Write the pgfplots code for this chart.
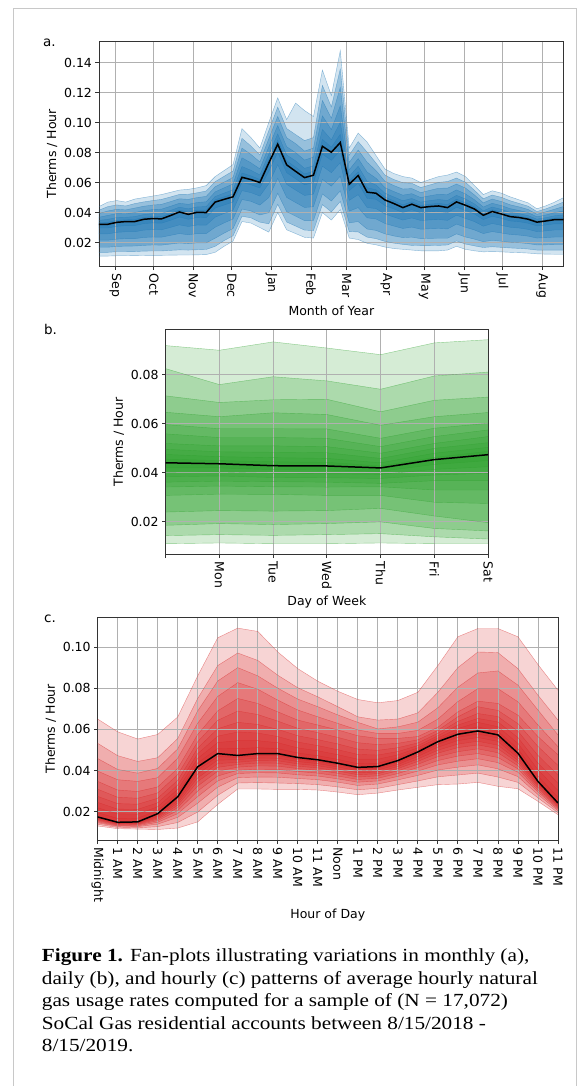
\documentclass[border=0pt]{standalone}
\usepackage{pgfplots}
\pgfplotsset{compat=1.18}
\usepackage{pgfplotstable}
\usepgfplotslibrary{fillbetween}
\usepackage{fontspec}
\setmainfont{DejaVu Sans}
\newfontfamily\capfont[FakeStretch=1.15]{Liberation Serif}

\definecolor{tabblue}{HTML}{1F77B4}
\definecolor{tabgreen}{HTML}{2CA02C}
\definecolor{tabred}{HTML}{D62728}
\definecolor{gridgray}{HTML}{B0B0B0}
\definecolor{framegray}{HTML}{C8C8C8}

% monthly fan (weekly points, x = days since 15 Aug 2018)
\pgfplotstableread{
x u1 u2 u3 u4 u5 u6 m l6 l5 l4 l3 l2 l1
4 0.0440 0.0416 0.0393 0.0369 0.0348 0.0333 0.0322 0.0297 0.0258 0.0216 0.0169 0.0135 0.0110
11 0.0470 0.0440 0.0411 0.0381 0.0355 0.0335 0.0322 0.0297 0.0258 0.0216 0.0169 0.0135 0.0110
18 0.0480 0.0451 0.0422 0.0393 0.0367 0.0348 0.0335 0.0308 0.0268 0.0223 0.0174 0.0139 0.0112
25 0.0470 0.0444 0.0418 0.0392 0.0369 0.0352 0.0340 0.0313 0.0272 0.0226 0.0176 0.0139 0.0112
32 0.0490 0.0460 0.0430 0.0400 0.0373 0.0354 0.0340 0.0313 0.0272 0.0226 0.0177 0.0140 0.0113
39 0.0500 0.0471 0.0442 0.0413 0.0387 0.0368 0.0355 0.0326 0.0283 0.0234 0.0181 0.0143 0.0114
46 0.0510 0.0480 0.0450 0.0420 0.0393 0.0374 0.0360 0.0331 0.0286 0.0237 0.0184 0.0144 0.0115
53 0.0520 0.0488 0.0455 0.0423 0.0394 0.0373 0.0358 0.0329 0.0285 0.0236 0.0183 0.0144 0.0115
60 0.0535 0.0504 0.0473 0.0442 0.0414 0.0394 0.0380 0.0348 0.0301 0.0248 0.0190 0.0148 0.0116
67 0.0550 0.0521 0.0492 0.0462 0.0436 0.0417 0.0404 0.0370 0.0318 0.0260 0.0197 0.0151 0.0117
74 0.0555 0.0522 0.0488 0.0455 0.0425 0.0403 0.0388 0.0355 0.0307 0.0252 0.0193 0.0150 0.0117
81 0.0565 0.0532 0.0500 0.0467 0.0438 0.0417 0.0402 0.0368 0.0317 0.0260 0.0198 0.0152 0.0118
88 0.0580 0.0544 0.0508 0.0472 0.0440 0.0416 0.0400 0.0366 0.0316 0.0260 0.0198 0.0154 0.0120
95 0.0640 0.0606 0.0572 0.0538 0.0507 0.0485 0.0470 0.0430 0.0369 0.0302 0.0229 0.0175 0.0135
102 0.0680 0.0642 0.0603 0.0565 0.0530 0.0505 0.0488 0.0450 0.0394 0.0331 0.0263 0.0213 0.0175
109 0.0720 0.0677 0.0634 0.0591 0.0552 0.0524 0.0505 0.0470 0.0416 0.0357 0.0293 0.0245 0.0210
116 0.0960 0.0895 0.0830 0.0765 0.0707 0.0664 0.0635 0.0600 0.0546 0.0487 0.0423 0.0375 0.0340
123 0.0900 0.0844 0.0788 0.0732 0.0682 0.0645 0.0620 0.0585 0.0533 0.0475 0.0411 0.0365 0.0330
130 0.0830 0.0784 0.0738 0.0692 0.0651 0.0621 0.0600 0.0564 0.0510 0.0450 0.0384 0.0336 0.0300
137 0.1000 0.0946 0.0892 0.0838 0.0789 0.0754 0.0730 0.0675 0.0592 0.0500 0.0399 0.0325 0.0270
144 0.1165 0.1103 0.1041 0.0980 0.0924 0.0884 0.0856 0.0801 0.0719 0.0628 0.0528 0.0455 0.0400
151 0.1020 0.0960 0.0899 0.0839 0.0784 0.0745 0.0718 0.0666 0.0588 0.0501 0.0406 0.0337 0.0285
158 0.1130 0.0920 0.0860 0.0800 0.0745 0.0703 0.0675 0.0625 0.0550 0.0467 0.0376 0.0310 0.0260
165 0.1080 0.0880 0.0810 0.0750 0.0695 0.0658 0.0633 0.0585 0.0514 0.0434 0.0346 0.0283 0.0235
172 0.1040 0.0900 0.0830 0.0770 0.0712 0.0675 0.0649 0.0599 0.0523 0.0439 0.0347 0.0280 0.0230
179 0.1350 0.1248 0.1147 0.1045 0.0954 0.0888 0.0842 0.0789 0.0709 0.0621 0.0524 0.0453 0.0400
186 0.1180 0.1104 0.1029 0.0953 0.0885 0.0836 0.0802 0.0748 0.0666 0.0576 0.0477 0.0404 0.0350
193 0.1480 0.1357 0.1235 0.1112 0.1002 0.0922 0.0867 0.0813 0.0733 0.0643 0.0545 0.0474 0.0420
200 0.0830 0.0782 0.0734 0.0685 0.0642 0.0611 0.0589 0.0546 0.0481 0.0409 0.0331 0.0273 0.0230
207 0.0930 0.0873 0.0817 0.0760 0.0709 0.0672 0.0647 0.0596 0.0519 0.0433 0.0340 0.0271 0.0220
214 0.0870 0.0803 0.0736 0.0670 0.0609 0.0566 0.0536 0.0495 0.0434 0.0365 0.0290 0.0236 0.0195
221 0.0780 0.0730 0.0680 0.0629 0.0584 0.0552 0.0529 0.0488 0.0426 0.0357 0.0281 0.0226 0.0185
228 0.0690 0.0649 0.0608 0.0566 0.0529 0.0503 0.0484 0.0446 0.0390 0.0327 0.0258 0.0208 0.0170
235 0.0660 0.0620 0.0580 0.0540 0.0504 0.0478 0.0460 0.0424 0.0370 0.0310 0.0244 0.0196 0.0160
242 0.0640 0.0599 0.0557 0.0516 0.0479 0.0452 0.0433 0.0400 0.0350 0.0294 0.0233 0.0188 0.0155
249 0.0630 0.0595 0.0560 0.0526 0.0494 0.0472 0.0456 0.0419 0.0364 0.0303 0.0236 0.0181 0.0150
256 0.0600 0.0567 0.0533 0.0500 0.0470 0.0448 0.0433 0.0398 0.0347 0.0289 0.0226 0.0180 0.0145
263 0.0620 0.0584 0.0548 0.0512 0.0480 0.0456 0.0440 0.0405 0.0351 0.0292 0.0228 0.0180 0.0145
270 0.0640 0.0601 0.0562 0.0522 0.0487 0.0462 0.0444 0.0408 0.0354 0.0294 0.0229 0.0181 0.0145
277 0.0650 0.0607 0.0563 0.0520 0.0481 0.0453 0.0433 0.0399 0.0348 0.0291 0.0229 0.0184 0.0150
284 0.0670 0.0630 0.0590 0.0551 0.0515 0.0489 0.0471 0.0435 0.0382 0.0323 0.0258 0.0211 0.0175
291 0.0640 0.0602 0.0564 0.0525 0.0491 0.0466 0.0449 0.0414 0.0361 0.0302 0.0237 0.0190 0.0155
298 0.0580 0.0549 0.0518 0.0486 0.0458 0.0438 0.0424 0.0391 0.0340 0.0284 0.0223 0.0178 0.0145
305 0.0520 0.0492 0.0465 0.0437 0.0412 0.0394 0.0382 0.0353 0.0309 0.0260 0.0206 0.0167 0.0138
312 0.0545 0.0517 0.0490 0.0462 0.0437 0.0419 0.0407 0.0375 0.0327 0.0273 0.0215 0.0172 0.0140
319 0.0530 0.0502 0.0474 0.0447 0.0422 0.0404 0.0391 0.0361 0.0315 0.0264 0.0209 0.0168 0.0138
326 0.0505 0.0479 0.0452 0.0426 0.0402 0.0385 0.0373 0.0344 0.0302 0.0254 0.0202 0.0164 0.0135
333 0.0485 0.0461 0.0438 0.0414 0.0393 0.0378 0.0367 0.0339 0.0297 0.0250 0.0199 0.0161 0.0133
340 0.0465 0.0443 0.0421 0.0400 0.0380 0.0366 0.0356 0.0329 0.0288 0.0243 0.0193 0.0157 0.0130
347 0.0425 0.0407 0.0389 0.0372 0.0356 0.0344 0.0336 0.0311 0.0273 0.0230 0.0184 0.0150 0.0125
354 0.0445 0.0425 0.0405 0.0384 0.0366 0.0353 0.0344 0.0317 0.0278 0.0233 0.0185 0.0150 0.0123
361 0.0470 0.0447 0.0423 0.0400 0.0379 0.0364 0.0353 0.0325 0.0284 0.0237 0.0187 0.0150 0.0122
368 0.0500 0.0471 0.0441 0.0412 0.0385 0.0366 0.0353 0.0325 0.0284 0.0237 0.0187 0.0150 0.0122
}\tabA

% daily fan (0 = Sun ... 6 = Sat)
\pgfplotstableread{
x u1 u2 u3 u4 u5 u6 u7 u8 u9 u10 m l10 l9 l8 l7 l6 l5 l4 l3 l2 l1
0 0.0919 0.0825 0.0714 0.0647 0.0597 0.0559 0.0520 0.0496 0.0475 0.0456 0.0441 0.0420 0.0402 0.0384 0.0362 0.0342 0.0308 0.0240 0.0186 0.0144 0.0111
1 0.0900 0.0760 0.0687 0.0629 0.0580 0.0544 0.0510 0.0486 0.0466 0.0450 0.0437 0.0420 0.0403 0.0387 0.0366 0.0346 0.0313 0.0246 0.0193 0.0148 0.0114
2 0.0934 0.0792 0.0698 0.0645 0.0580 0.0544 0.0510 0.0484 0.0462 0.0445 0.0429 0.0413 0.0398 0.0381 0.0364 0.0343 0.0312 0.0244 0.0189 0.0145 0.0111
3 0.0909 0.0775 0.0700 0.0638 0.0579 0.0541 0.0507 0.0482 0.0459 0.0443 0.0428 0.0411 0.0396 0.0380 0.0362 0.0342 0.0308 0.0246 0.0193 0.0148 0.0111
4 0.0882 0.0741 0.0649 0.0594 0.0541 0.0507 0.0480 0.0459 0.0441 0.0428 0.0420 0.0406 0.0394 0.0377 0.0357 0.0343 0.0308 0.0255 0.0200 0.0152 0.0114
5 0.0930 0.0795 0.0696 0.0629 0.0582 0.0548 0.0520 0.0500 0.0480 0.0463 0.0454 0.0434 0.0414 0.0391 0.0368 0.0330 0.0280 0.0224 0.0173 0.0139 0.0111
6 0.0943 0.0811 0.0709 0.0646 0.0602 0.0575 0.0548 0.0523 0.0504 0.0488 0.0474 0.0450 0.0425 0.0398 0.0368 0.0330 0.0275 0.0197 0.0163 0.0130 0.0111
}\tabB

% hourly fan (0 = midnight ... 23 = 11 PM)
\pgfplotstableread{
x u1 u2 u3 u4 u5 u6 u7 u8 u9 u10 m l10 l9 l8 l7 l6 l5 l4 l3 l2 l1
0 0.0650 0.0532 0.0458 0.0397 0.0347 0.0309 0.0274 0.0245 0.0219 0.0195 0.0174 0.0171 0.0168 0.0165 0.0162 0.0159 0.0155 0.0150 0.0145 0.0138 0.0130
1 0.0588 0.0472 0.0405 0.0355 0.0305 0.0270 0.0239 0.0212 0.0189 0.0167 0.0148 0.0146 0.0144 0.0142 0.0140 0.0137 0.0134 0.0131 0.0128 0.0123 0.0117
2 0.0553 0.0444 0.0387 0.0347 0.0298 0.0265 0.0236 0.0211 0.0188 0.0168 0.0150 0.0148 0.0145 0.0143 0.0141 0.0138 0.0135 0.0131 0.0127 0.0121 0.0115
3 0.0575 0.0462 0.0410 0.0365 0.0320 0.0291 0.0265 0.0243 0.0224 0.0206 0.0190 0.0185 0.0180 0.0175 0.0169 0.0163 0.0156 0.0148 0.0139 0.0127 0.0113
4 0.0660 0.0555 0.0505 0.0460 0.0410 0.0380 0.0352 0.0329 0.0308 0.0289 0.0272 0.0263 0.0252 0.0242 0.0231 0.0219 0.0205 0.0190 0.0172 0.0147 0.0120
5 0.0860 0.0750 0.0690 0.0630 0.0575 0.0540 0.0509 0.0482 0.0459 0.0437 0.0418 0.0402 0.0383 0.0364 0.0346 0.0324 0.0300 0.0273 0.0241 0.0198 0.0150
6 0.1045 0.0910 0.0835 0.0760 0.0690 0.0644 0.0603 0.0567 0.0536 0.0507 0.0482 0.0467 0.0450 0.0433 0.0415 0.0396 0.0373 0.0349 0.0319 0.0279 0.0235
7 0.1092 0.0971 0.0900 0.0827 0.0750 0.0689 0.0634 0.0587 0.0545 0.0506 0.0473 0.0463 0.0452 0.0440 0.0429 0.0416 0.0401 0.0385 0.0365 0.0339 0.0310
8 0.1076 0.0935 0.0860 0.0795 0.0726 0.0672 0.0624 0.0582 0.0545 0.0511 0.0482 0.0472 0.0460 0.0448 0.0436 0.0422 0.0406 0.0389 0.0368 0.0341 0.0310
9 0.0976 0.0863 0.0800 0.0742 0.0685 0.0640 0.0600 0.0565 0.0535 0.0506 0.0482 0.0472 0.0459 0.0447 0.0435 0.0421 0.0405 0.0388 0.0367 0.0339 0.0308
10 0.0895 0.0802 0.0747 0.0694 0.0645 0.0605 0.0569 0.0538 0.0510 0.0485 0.0463 0.0454 0.0443 0.0432 0.0421 0.0409 0.0395 0.0379 0.0361 0.0336 0.0308
11 0.0834 0.0758 0.0710 0.0661 0.0621 0.0584 0.0550 0.0521 0.0496 0.0472 0.0452 0.0443 0.0433 0.0423 0.0412 0.0401 0.0387 0.0373 0.0355 0.0331 0.0305
12 0.0785 0.0710 0.0670 0.0629 0.0597 0.0561 0.0529 0.0501 0.0477 0.0454 0.0435 0.0427 0.0417 0.0407 0.0397 0.0386 0.0373 0.0359 0.0343 0.0320 0.0295
13 0.0745 0.0661 0.0634 0.0597 0.0569 0.0535 0.0504 0.0478 0.0455 0.0433 0.0415 0.0407 0.0398 0.0388 0.0379 0.0368 0.0356 0.0343 0.0327 0.0306 0.0282
14 0.0729 0.0645 0.0602 0.0580 0.0556 0.0526 0.0498 0.0475 0.0455 0.0435 0.0419 0.0411 0.0402 0.0393 0.0384 0.0374 0.0362 0.0349 0.0334 0.0313 0.0290
15 0.0740 0.0650 0.0612 0.0580 0.0556 0.0532 0.0511 0.0492 0.0476 0.0461 0.0448 0.0439 0.0429 0.0419 0.0409 0.0398 0.0385 0.0371 0.0354 0.0331 0.0305
16 0.0780 0.0680 0.0635 0.0595 0.0565 0.0549 0.0534 0.0521 0.0510 0.0499 0.0490 0.0480 0.0468 0.0456 0.0444 0.0430 0.0414 0.0397 0.0376 0.0349 0.0318
17 0.0910 0.0780 0.0705 0.0650 0.0610 0.0595 0.0581 0.0569 0.0558 0.0548 0.0540 0.0527 0.0513 0.0498 0.0484 0.0467 0.0448 0.0427 0.0402 0.0369 0.0331
18 0.1050 0.0900 0.0805 0.0735 0.0685 0.0661 0.0639 0.0621 0.0604 0.0589 0.0576 0.0561 0.0545 0.0528 0.0511 0.0491 0.0470 0.0445 0.0416 0.0378 0.0334
19 0.1090 0.0976 0.0874 0.0798 0.0737 0.0710 0.0677 0.0653 0.0634 0.0612 0.0592 0.0577 0.0560 0.0542 0.0524 0.0505 0.0482 0.0457 0.0427 0.0387 0.0342
20 0.1090 0.0973 0.0884 0.0798 0.0726 0.0692 0.0662 0.0636 0.0613 0.0591 0.0573 0.0558 0.0541 0.0523 0.0506 0.0486 0.0463 0.0438 0.0408 0.0368 0.0323
21 0.1050 0.0895 0.0815 0.0734 0.0669 0.0628 0.0591 0.0560 0.0532 0.0506 0.0484 0.0474 0.0462 0.0449 0.0437 0.0423 0.0408 0.0391 0.0370 0.0342 0.0311
22 0.0915 0.0766 0.0694 0.0621 0.0565 0.0517 0.0473 0.0436 0.0404 0.0373 0.0347 0.0341 0.0334 0.0328 0.0321 0.0313 0.0304 0.0295 0.0283 0.0267 0.0250
23 0.0790 0.0645 0.0573 0.0516 0.0476 0.0425 0.0378 0.0338 0.0303 0.0270 0.0242 0.0239 0.0235 0.0231 0.0227 0.0222 0.0217 0.0211 0.0204 0.0195 0.0185
}\tabC

% #1 table, #2 number of quantile pairs, #3 colour, #4 outer opacity, #5 inner opacity
\newcommand{\fan}[5]{%
  \addplot[draw=#3, draw opacity=0.5, line width=0.4pt, name path=u1] table[x=x, y=u1] {#1};
  \addplot[draw=#3, draw opacity=0.5, line width=0.4pt, name path=l1] table[x=x, y=l1] {#1};
  \addplot[fill=#3, fill opacity=#4, draw=none] fill between[of=u1 and l1];
  \pgfplotsinvokeforeach{2,...,#2}{%
    \addplot[draw=#3, draw opacity=0.5, line width=0.4pt, name path=u##1] table[x=x, y=u##1] {#1};
    \addplot[draw=#3, draw opacity=0.5, line width=0.4pt, name path=l##1] table[x=x, y=l##1] {#1};
    \addplot[fill=#3, fill opacity=#5, draw=none] fill between[of=u##1 and l##1];
  }%
  \addplot[black, line width=1.5pt] table[x=x, y=m] {#1};
}

\pgfplotsset{fanax/.style={
  scale only axis, set layers,
  /tikz/fill between/on layer=axis background,
  axis line style={black!80, line width=0.8pt},
  grid=major, major grid style={gridgray, line width=0.8pt},
  tick align=outside, tick pos=left,
  major tick length=3.5pt,
  tick style={black!80, line width=0.8pt},
  tick label style={font=\fontsize{12.5}{14}\selectfont},
  label style={font=\fontsize{12.5}{14}\selectfont},
  /pgf/number format/assume math mode=true,
  y tick label style={/pgf/number format/fixed, /pgf/number format/fixed zerofill, /pgf/number format/precision=2},
  scaled y ticks=false,
  x tick label style={rotate=-90, anchor=west},
  ylabel={Therms / Hour},
}}

\begin{document}
\begin{tikzpicture}
\path (0,0) rectangle (582pt,1086pt);

% a. monthly
\begin{axis}[fanax, at={(99pt,819.3pt)}, anchor=south west,
  width=465pt, height=225.7pt,
  xmin=4, xmax=368, ymin=0.004, ymax=0.1544,
  xtick={17,47,78,108,139,170,198,229,259,290,320,351},
  xticklabels={Sep,Oct,Nov,Dec,Jan,Feb,Mar,Apr,May,Jun,Jul,Aug},
  ytick={0.02,0.04,0.06,0.08,0.10,0.12,0.14},
  xlabel={Month of Year}]
\fan{\tabA}{6}{tabblue}{0.2}{0.33}
\end{axis}

% b. daily
\begin{axis}[fanax, at={(165.7pt,531pt)}, anchor=south west,
  width=322.6pt, height=225.7pt,
  xmin=0, xmax=6, ymin=0.0066, ymax=0.0986,
  xtick={0,1,2,3,4,5,6},
  xticklabels={,Mon,Tue,Wed,Thu,Fri,Sat},
  ytick={0.02,0.04,0.06,0.08},
  xlabel={Day of Week}]
\fan{\tabB}{10}{tabgreen}{0.2}{0.24}
\end{axis}

% c. hourly
\begin{axis}[fanax, at={(97.7pt,245pt)}, anchor=south west,
  width=460.5pt, height=223.7pt,
  xmin=0, xmax=23, ymin=0.0059, ymax=0.1146,
  xtick={0,1,...,23},
  xticklabels={Midnight,1 AM,2 AM,3 AM,4 AM,5 AM,6 AM,7 AM,8 AM,9 AM,10 AM,11 AM,Noon,1 PM,2 PM,3 PM,4 PM,5 PM,6 PM,7 PM,8 PM,9 PM,10 PM,11 PM},
  ytick={0.02,0.04,0.06,0.08,0.10},
  xlabel={Hour of Day}]
\fan{\tabC}{10}{tabred}{0.2}{0.22}
\end{axis}

\draw[framegray, line width=1pt] (14pt,0pt) -- (14pt,1077pt) -- (577pt,1077pt) -- (577pt,0pt);

\node[anchor=west, inner sep=0, font=\fontsize{13.5}{16}\selectfont] at (43pt,1043.3pt) {a.};
\node[anchor=west, inner sep=0, font=\fontsize{13.5}{16}\selectfont] at (44pt,756pt) {b.};
\node[anchor=west, inner sep=0, font=\fontsize{13.5}{16}\selectfont] at (44pt,467pt) {c.};

\begin{scope}[every node/.style={anchor=base west, inner sep=0, font=\capfont\fontsize{18.5}{22}\selectfont}]
\node at (41.7pt,124pt) {\textbf{Figure 1.} Fan-plots illustrating variations in monthly (a),};
\node at (41.7pt,101.5pt) {daily (b), and hourly (c) patterns of average hourly natural};
\node at (41.7pt,79pt) {gas usage rates computed for a sample of (N = 17,072)};
\node at (41.7pt,56.5pt) {SoCal Gas residential accounts between 8/15/2018 -};
\node at (41.7pt,34pt) {8/15/2019.};
\end{scope}
\end{tikzpicture}
\end{document}
